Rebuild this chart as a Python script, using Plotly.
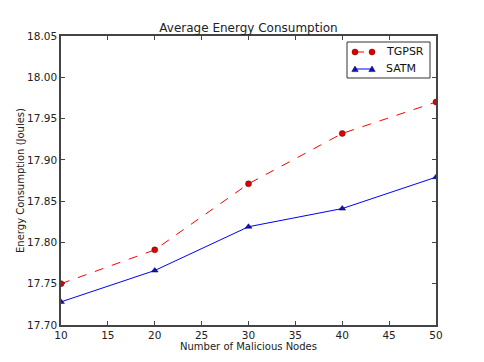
import plotly.graph_objects as go

nodes = [10, 20, 30, 40, 50]
tgpsr = [17.750, 17.791, 17.871, 17.932, 17.970]
satm = [17.728, 17.766, 17.819, 17.841, 17.879]
x_ticks = [10, 15, 20, 25, 30, 35, 40, 45, 50]
y_ticks = [17.70, 17.75, 17.80, 17.85, 17.90, 17.95, 18.00, 18.05]
series_names = ["TGPSR", "SATM"]

RED_LINE, RED_MK, RED_EDGE = "red", "#e00000", "#600000"
BLUE_LINE, BLUE_MK, BLUE_EDGE = "blue", "#1010c0", "#000040"

fig = go.Figure()
fig.add_trace(go.Scatter(x=nodes, y=tgpsr, name=series_names[0], mode="lines+markers",
                         line=dict(color=RED_LINE, dash="dash", width=1),
                         marker=dict(symbol="circle", size=6, color=RED_MK,
                                     line=dict(color=RED_EDGE, width=0.5))))
fig.add_trace(go.Scatter(x=nodes, y=satm, name=series_names[1], mode="lines+markers",
                         line=dict(color=BLUE_LINE, width=1),
                         marker=dict(symbol="triangle-up", size=6, color=BLUE_MK,
                                     line=dict(color=BLUE_EDGE, width=0.5))))

axis_common = dict(showgrid=False, zeroline=False, showline=True, linecolor="#444",
                   linewidth=1.5, mirror="ticks", ticks="inside", ticklen=4,
                   tickcolor="#444", tickfont=dict(size=10.5, color="#222"),
                   automargin=False)
fig.update_xaxes(range=[10, 50], tickvals=x_ticks, ticktext=[str(v) for v in x_ticks],
                 title=dict(text="Number of Malicious Nodes", font=dict(size=10, color="#222"), standoff=0),
                 **axis_common)
fig.update_yaxes(range=[17.70, 18.05], tickvals=y_ticks, ticktext=[f"{v:.2f}" for v in y_ticks],
                 title=dict(text="Energy Consumption (Joules)", font=dict(size=10, color="#222"), standoff=1),
                 **axis_common)

# custom legend (matplotlib-style, two markers per sample)
PW, PH = 375.0, 289.0
def px_x(p): return (p - 61) / PW
def px_y(p): return (325 - p) / PH

shapes = [dict(type="rect", xref="paper", yref="paper",
               x0=px_x(347), x1=px_x(430), y0=px_y(78), y1=px_y(42),
               line=dict(color="#333", width=1), fillcolor="white", layer="above")]
annotations = []
entries = [(52, RED_LINE, "dash", RED_MK, RED_EDGE, "circle"),
           (69, BLUE_LINE, "solid", BLUE_MK, BLUE_EDGE, "tri")]
for name, (ey, lc, ld, mc, me, sym) in zip(series_names, entries):
    shapes.append(dict(type="line", xref="paper", yref="paper",
                       x0=px_x(355), x1=px_x(372), y0=px_y(ey), y1=px_y(ey),
                       line=dict(color=lc, width=1, dash="dash" if ld == "dash" else "solid"),
                       layer="above"))
    for mx in (355, 372):
        if sym == "circle":
            shapes.append(dict(type="circle", xref="paper", yref="paper",
                               x0=px_x(mx - 3), x1=px_x(mx + 3), y0=px_y(ey + 3), y1=px_y(ey - 3),
                               fillcolor=mc, line=dict(color=me, width=0.5), layer="above"))
        else:
            path = (f"M {px_x(mx - 3.2)} {px_y(ey + 2.6)} L {px_x(mx + 3.2)} {px_y(ey + 2.6)} "
                    f"L {px_x(mx)} {px_y(ey - 3)} Z")
            shapes.append(dict(type="path", xref="paper", yref="paper", path=path,
                               fillcolor=mc, line=dict(color=me, width=0.5), layer="above"))
    annotations.append(dict(text=name, xref="paper", yref="paper", x=px_x(384), y=px_y(ey),
                            xanchor="left", yanchor="middle", showarrow=False,
                            font=dict(size=11, color="#111")))

fig.update_layout(
    width=484, height=362,
    margin=dict(l=53, r=56, t=28, b=45, autoexpand=False),
    paper_bgcolor="white", plot_bgcolor="white",
    font=dict(family="DejaVu Sans", color="#222"),
    title=dict(text="Average Energy Consumption", x=0.5, xanchor="center",
               xref="paper", yref="paper", y=1, yanchor="bottom",
               pad=dict(b=4), font=dict(size=12, color="#222")),
    showlegend=False,
    shapes=shapes,
    annotations=annotations,
)
fig.write_html("out.html")
